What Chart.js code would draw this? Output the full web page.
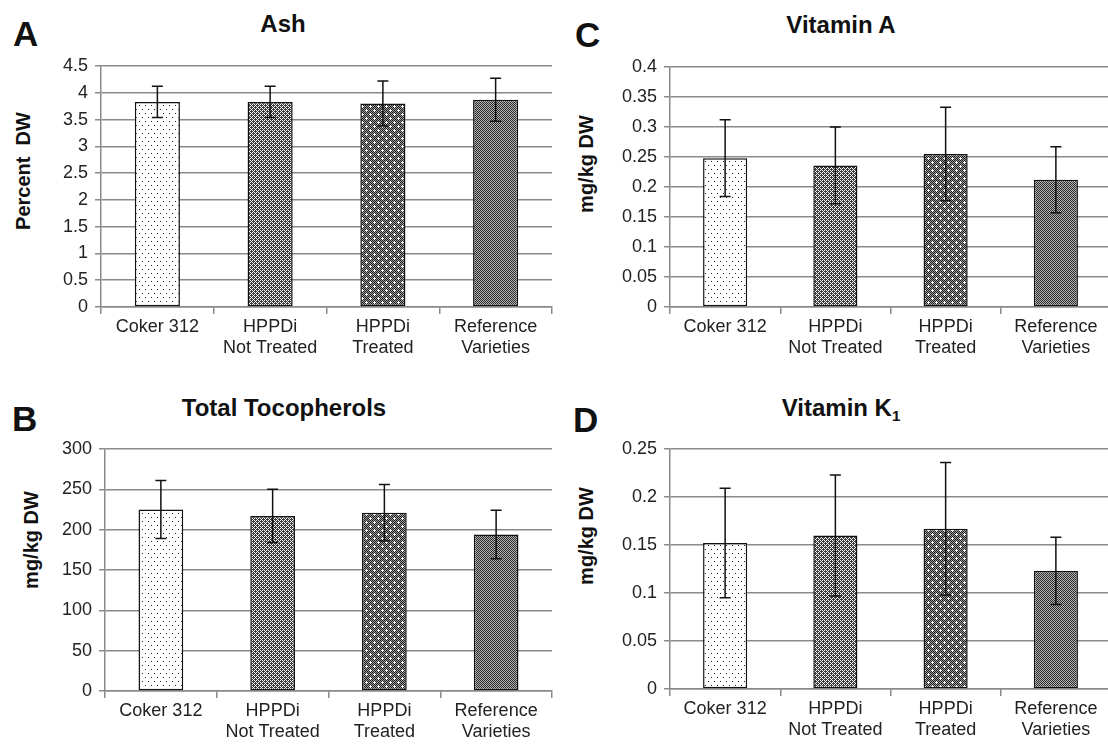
<!DOCTYPE html>
<html>
<head>
<meta charset="utf-8">
<script src="https://cdn.jsdelivr.net/npm/chart.js@4.4.1/dist/chart.umd.min.js"></script>
<style>
  html, body { margin: 0; padding: 0; background: #fff; width: 1108px; height: 744px; overflow: hidden; }
  .panel { position: absolute; }
  .panel canvas { display: block; }
  .letter { position: absolute; font: bold 35px "Liberation Sans", Arial, sans-serif; color: #111; line-height: 1; }
  .title { position: absolute; font: bold 24px "Liberation Sans", Arial, sans-serif; color: #111; line-height: 1;
           transform: translate(-50%, -50%); white-space: nowrap; }
  .title sub { font-size: 15px; vertical-align: -5px; line-height: 0; }
  .ytitle { position: absolute; font: bold 20px "Liberation Sans", Arial, sans-serif; color: #111; line-height: 1;
            transform: translate(-50%, -50%) rotate(-90deg); white-space: pre; }
</style>
</head>
<body>
<div class="letter" style="left:13px;top:16px">A</div>
<div class="letter" style="left:575px;top:17px">C</div>
<div class="letter" style="left:12px;top:401px">B</div>
<div class="letter" style="left:573px;top:402px">D</div>

<div class="title" style="left:283px;top:24px">Ash</div>
<div class="title" style="left:841px;top:25px">Vitamin A</div>
<div class="title" style="left:284px;top:408px">Total Tocopherols</div>
<div class="title" style="left:841px;top:408px">Vitamin K<sub>1</sub></div>

<div class="ytitle" style="left:23px;top:171px">Percent  DW</div>
<div class="ytitle" style="left:586px;top:164px">mg/kg DW</div>
<div class="ytitle" style="left:31px;top:540px">mg/kg DW</div>
<div class="ytitle" style="left:586px;top:536px">mg/kg DW</div>

<div class="panel" style="left:0;top:0"><canvas id="chartA" width="554" height="372"></canvas></div>
<div class="panel" style="left:554px;top:0"><canvas id="chartC" width="560" height="372"></canvas></div>
<div class="panel" style="left:0;top:372px"><canvas id="chartB" width="554" height="372"></canvas></div>
<div class="panel" style="left:554px;top:372px"><canvas id="chartD" width="560" height="372"></canvas></div>

<script>
// Groups shown on every panel
const categories = [['Coker 312'], ['HPPDi', 'Not Treated'], ['HPPDi', 'Treated'], ['Reference', 'Varieties']];

// A: Ash (percent of dry weight), mean and error
const ashMeans  = [3.83, 3.83, 3.80, 3.87];
const ashErrors = [0.29, 0.29, 0.42, 0.40];
const ashTicks  = [0, 4.5, 0.5];      // min, max, step

// B: Total tocopherols (mg/kg DW)
const tocoMeans  = [225, 217, 221, 194];
const tocoErrors = [36, 33, 35, 30];
const tocoTicks  = [0, 300, 50];

// C: Vitamin A (mg/kg DW)
const vitAMeans  = [0.248, 0.236, 0.255, 0.212];
const vitAErrors = [0.064, 0.064, 0.078, 0.055];
const vitATicks  = [0, 0.4, 0.05];

// D: Vitamin K1 (mg/kg DW)
const vitKMeans  = [0.152, 0.160, 0.167, 0.123];
const vitKErrors = [0.057, 0.063, 0.069, 0.035];
const vitKTicks  = [0, 0.25, 0.05];

const FONT = '"Liberation Sans", Arial, sans-serif';

// ---- fill patterns for the four groups ----
function tile(w, h, paint) {
  const c = document.createElement('canvas');
  c.width = w; c.height = h;
  const g = c.getContext('2d');
  paint(g);
  return g.createPattern(c, 'repeat');
}
function px(g, x, y, col) { g.fillStyle = col; g.fillRect(x, y, 1, 1); }

// sparse dots on white
const dotPattern = tile(6, 8, g => {
  g.fillStyle = '#fff'; g.fillRect(0, 0, 6, 8);
  px(g, 1, 1, '#1e1e1e'); px(g, 4, 5, '#1e1e1e');
});
// small dark diamonds leaving white holes
const diamondPattern = tile(4, 4, g => {
  g.fillStyle = '#fafafa'; g.fillRect(0, 0, 4, 4);
  [[1, 1], [3, 3]].forEach(([cx, cy]) => {
    [[0, 0], [1, 0], [-1, 0], [0, 1], [0, -1]].forEach(([dx, dy]) => {
      px(g, (cx + dx + 4) % 4, (cy + dy + 4) % 4, '#383838');
    });
  });
});
// dark fine checker with white crosses
const crossPattern = tile(8, 8, g => {
  for (let x = 0; x < 8; x++) for (let y = 0; y < 8; y++) {
    px(g, x, y, (x + y) % 2 ? '#9c9c9c' : '#1e1e1e');
  }
  [[2, 2], [6, 6]].forEach(([cx, cy]) => {
    px(g, cx, cy, '#fff');
    px(g, (cx + 7) % 8, cy, '#fff'); px(g, (cx + 1) % 8, cy, '#fff');
    px(g, cx, (cy + 7) % 8, '#fff'); px(g, cx, (cy + 1) % 8, '#fff');
  });
});
// dark fine checker
const checkPattern = tile(2, 2, g => {
  px(g, 0, 0, '#2a2a2a'); px(g, 1, 1, '#2a2a2a');
  px(g, 1, 0, '#b4b4b4'); px(g, 0, 1, '#b4b4b4');
});
const fills = [dotPattern, diamondPattern, crossPattern, checkPattern];

// ---- error bars drawn through the y scale ----
const errorBars = {
  id: 'errorBars',
  afterDatasetsDraw(chart) {
    const ds = chart.data.datasets[0];
    const meta = chart.getDatasetMeta(0);
    const ys = chart.scales.y;
    const ctx = chart.ctx;
    ctx.save();
    ctx.strokeStyle = '#111';
    ctx.lineWidth = 1.5;
    meta.data.forEach((bar, i) => {
      const v = ds.data[i], e = ds.errors[i];
      const yt = ys.getPixelForValue(v + e);
      const yb = ys.getPixelForValue(v - e);
      const x = bar.x, cap = 5.5;
      ctx.beginPath();
      ctx.moveTo(x, yt); ctx.lineTo(x, yb);
      ctx.moveTo(x - cap, yt); ctx.lineTo(x + cap, yt);
      ctx.moveTo(x - cap, yb); ctx.lineTo(x + cap, yb);
      ctx.stroke();
    });
    ctx.restore();
  }
};

const fmt = v => String(+Number(v).toFixed(3));

function panel(id, means, errors, ticks, box) {
  const [min, max, step] = ticks;
  new Chart(document.getElementById(id), {
    type: 'bar',
    data: {
      labels: categories,
      datasets: [{
        data: means,
        errors: errors,
        backgroundColor: fills,
        borderColor: '#111',
        borderWidth: 1.5,
        borderSkipped: false,
        barPercentage: 0.4,
        categoryPercentage: 1
      }]
    },
    options: {
      responsive: false,
      animation: false,
      devicePixelRatio: 1,
      layout: { padding: { top: box.top, right: box.right, left: 0, bottom: 0 } },
      plugins: { legend: { display: false }, tooltip: { enabled: false } },
      scales: {
        x: {
          grid: { display: true, drawOnChartArea: false, drawTicks: true, tickLength: 7,
                  color: '#8a8a8a', lineWidth: 1.5, offset: true },
          border: { display: true, color: '#8a8a8a', width: 1.5 },
          ticks: { color: '#222', font: { family: FONT, size: 18 }, padding: 2, maxRotation: 0, autoSkip: false },
          afterFit: s => { s.height = box.xh; }
        },
        y: {
          min: min, max: max,
          grid: { color: '#8a8a8a', lineWidth: 1.5, drawTicks: true, tickLength: 6 },
          border: { display: true, color: '#8a8a8a', width: 1.5 },
          ticks: { stepSize: step, color: '#222', font: { family: FONT, size: 18 }, padding: 7,
                   callback: fmt },
          afterFit: s => { s.width = box.yw; }
        }
      }
    },
    plugins: [errorBars]
  });
}

panel('chartA', ashMeans,  ashErrors,  ashTicks,  { top: 66, right: 2, yw: 101, xh: 65 });
panel('chartC', vitAMeans, vitAErrors, vitATicks, { top: 67, right: 3, yw: 116, xh: 65 });
panel('chartB', tocoMeans, tocoErrors, tocoTicks, { top: 77, right: 2, yw: 105, xh: 53 });
panel('chartD', vitKMeans, vitKErrors, vitKTicks, { top: 77, right: 3, yw: 116, xh: 55 });
</script>
</body>
</html>
